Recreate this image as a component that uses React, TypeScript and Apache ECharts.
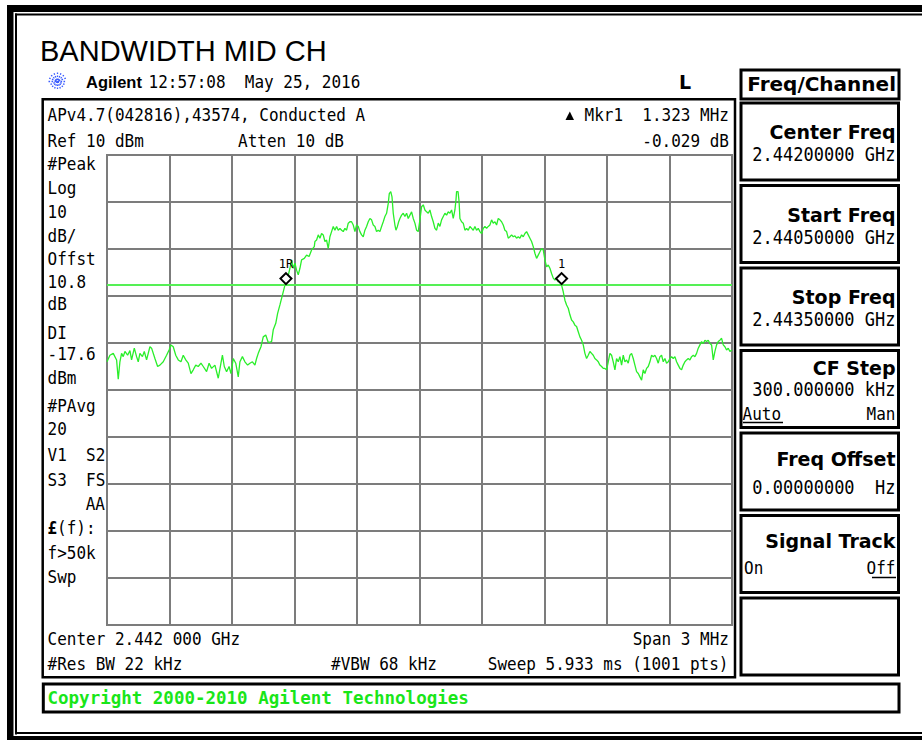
import React, { useEffect, useRef } from "react";
import * as echarts from "echarts";

// ---- Data (frequency in kHz from start 2.44050 GHz, level in dBm) ----
const startFreqGHz = 2.4405;
const spanKHz = 3000;
const divKHz = 300;
const refLevelDbm = 10;
const bottomDbm = -90;
const dbPerDiv = 10;
const displayLineDbm = -17.6;

const traceLeft: number[][] = [
  [0, -34.0], [14, -32.6], [30, -32.2], [46, -33.6], [54, -37.7], [62, -34.0], [70, -32.2], [78, -32.9],
  [86, -31.8], [99, -32.6], [110, -31.6], [118, -33.6], [131, -31.1], [142, -32.9], [150, -34.0], [158, -32.2],
  [170, -32.9], [179, -31.8], [190, -33.6], [206, -30.8], [214, -31.1], [230, -33.3], [243, -35.0], [254, -34.7],
  [270, -34.0], [286, -32.6], [298, -31.5], [307, -30.4], [318, -30.8], [330, -32.6], [342, -33.6], [355, -34.0],
  [366, -32.6], [378, -33.6], [390, -34.3], [403, -36.5], [414, -35.7], [426, -34.7], [438, -35.0], [451, -34.3],
  [462, -35.0], [478, -36.1], [490, -34.3], [502, -35.4], [518, -34.7], [534, -37.5], [547, -34.3], [554, -32.6],
  [563, -35.0], [574, -36.1], [586, -35.0], [595, -36.5], [606, -33.3], [618, -34.3], [630, -37.2], [638, -34.0],
  [650, -32.9], [662, -34.0], [675, -34.7], [686, -34.3], [698, -34.0], [710, -34.7], [718, -33.3], [726, -32.2],
  [739, -30.8], [750, -28.7], [762, -28.3], [774, -29.9], [790, -29.7], [798, -27.2], [810, -25.8], [819, -23.7],
  [830, -21.9], [842, -19.8], [854, -17.7], [867, -16.2], [878, -14.1], [886, -12.3], [894, -14.1], [902, -13.0],
  [910, -14.5], [918, -15.5], [926, -14.1], [934, -12.3], [947, -12.0], [958, -11.3], [970, -11.6], [982, -10.2],
  [995, -9.5],
];

const traceMid: number[][] = [
  [998, -8.4], [1006, -8.1], [1014, -7.0], [1022, -7.7], [1030, -6.7], [1038, -7.0], [1046, -8.4], [1054, -8.1],
  [1062, -9.9], [1070, -7.4], [1078, -6.3], [1086, -5.2], [1094, -6.0], [1102, -5.2], [1110, -6.0], [1118, -5.6],
  [1126, -6.0], [1134, -6.3], [1142, -5.6], [1150, -6.0], [1158, -4.5], [1166, -4.2], [1174, -4.2], [1182, -4.9],
  [1190, -6.3], [1198, -4.9], [1206, -5.2], [1214, -6.3], [1222, -7.0], [1230, -7.4], [1238, -6.0], [1246, -5.2],
  [1254, -4.2], [1262, -3.5], [1270, -3.8], [1278, -4.9], [1286, -5.2], [1294, -6.3], [1302, -6.0], [1310, -6.3],
  [1318, -5.2], [1326, -4.2], [1334, -3.1], [1342, -2.4], [1350, -0.3], [1355, 1.8], [1362, 2.2], [1368, 1.1],
  [1374, -2.4], [1382, -4.9], [1387, -6.0], [1394, -5.2], [1400, -4.2], [1406, -3.5], [1414, -2.8], [1422, -2.4],
  [1430, -3.1], [1438, -2.4], [1446, -3.5], [1454, -2.8], [1462, -2.1], [1470, -3.5], [1478, -4.5], [1486, -6.0],
  [1494, -6.3], [1502, -3.8], [1510, -1.0], [1518, -0.6], [1526, -1.7], [1534, -2.1], [1542, -2.4], [1550, -1.7],
  [1558, -3.1], [1566, -4.2], [1574, -5.6], [1582, -6.0], [1590, -4.5], [1598, -5.2], [1606, -3.8], [1614, -3.1],
  [1622, -2.4], [1630, -2.8], [1638, -2.1], [1646, -2.4], [1654, -1.7], [1662, -3.5], [1670, -1.7], [1675, 0.4],
  [1678, 2.2], [1685, 2.2], [1690, 0.1], [1694, -3.5], [1702, -4.2], [1710, -4.5], [1718, -6.0], [1726, -5.6],
  [1734, -6.0], [1742, -5.2], [1750, -5.6], [1758, -6.0], [1766, -5.2], [1774, -6.0], [1782, -5.6], [1790, -6.3],
  [1798, -6.7], [1806, -5.6], [1814, -5.2], [1822, -5.6], [1830, -5.2], [1838, -4.9], [1846, -3.8], [1854, -4.5],
  [1862, -4.2], [1870, -4.9], [1878, -3.5], [1886, -3.8], [1894, -4.2], [1902, -4.9], [1910, -6.0], [1918, -6.3],
  [1926, -7.7], [1934, -7.4], [1942, -7.0], [1950, -7.4], [1958, -7.2], [1966, -7.7], [1974, -7.4],
];

const traceRight: number[][] = [
  [1982, -7.7], [1990, -7.0], [1998, -7.4], [2006, -6.7], [2014, -6.3], [2022, -7.0], [2030, -7.7], [2038, -8.4],
  [2046, -9.5], [2054, -10.9], [2062, -12.0], [2070, -11.3], [2078, -10.6], [2086, -9.9], [2094, -10.2], [2102, -12.3],
  [2110, -13.8], [2118, -13.4], [2126, -14.1], [2134, -15.2], [2142, -16.2], [2150, -16.6], [2158, -16.2], [2166, -17.0],
  [2174, -16.6], [2182, -17.7], [2190, -19.1], [2198, -20.9], [2206, -21.9], [2214, -22.6], [2222, -24.0], [2230, -25.1],
  [2238, -25.5], [2246, -26.2], [2254, -26.5], [2262, -27.6], [2270, -28.7], [2278, -29.4], [2286, -30.4], [2294, -32.2],
  [2302, -33.3], [2310, -32.6], [2318, -31.8], [2326, -32.2], [2334, -32.6], [2342, -33.3], [2350, -33.6], [2358, -34.0],
  [2366, -34.7], [2374, -35.0], [2382, -35.4], [2390, -35.4], [2398, -35.7], [2406, -34.0], [2414, -32.2], [2422, -32.6],
  [2430, -34.0], [2438, -35.7], [2446, -33.3], [2454, -34.0], [2462, -32.9], [2470, -34.7], [2478, -32.6], [2486, -34.0],
  [2494, -33.6], [2502, -34.3], [2510, -32.6], [2518, -32.2], [2526, -33.3], [2534, -34.7], [2542, -36.1], [2550, -36.5],
  [2558, -37.2], [2566, -37.9], [2574, -35.7], [2582, -36.5], [2590, -35.4], [2598, -35.0], [2606, -34.0], [2614, -32.6],
  [2622, -32.9], [2630, -32.6], [2638, -33.3], [2646, -34.3], [2654, -32.9], [2662, -32.6], [2670, -34.0], [2678, -33.3],
  [2686, -34.3], [2694, -34.0], [2702, -33.3], [2710, -32.9], [2718, -33.3], [2726, -32.9], [2734, -34.0], [2742, -34.7],
  [2750, -35.4], [2758, -35.7], [2766, -34.7], [2774, -34.0], [2782, -33.6], [2790, -33.3], [2798, -33.6], [2806, -32.9],
  [2814, -32.6], [2822, -32.9], [2830, -32.2], [2838, -31.1], [2846, -30.4], [2854, -29.7], [2862, -30.1], [2870, -29.4],
  [2878, -29.7], [2886, -29.4], [2894, -30.1], [2902, -30.4], [2910, -33.6], [2918, -31.8], [2926, -30.4], [2934, -29.7],
  [2942, -29.4], [2950, -29.0], [2958, -30.4], [2966, -30.8], [2974, -31.5], [2982, -31.1], [2990, -31.8], [3000, -31.5],
];

const markerLabels = ["1R", "1"];
const markerFreqKHz = [859, 2182];
const markerDbm = [-16.3, -16.3];

// ---- Texts ----
const titleText = "BANDWIDTH MID CH";
const timeText = "12:57:08  May 25, 2016";
const infoLine1 = "APv4.7(042816),43574, Conducted A";
const refText = "Ref 10 dBm";
const attenText = "Atten 10 dB";
const mkrText = "Mkr1  1.323 MHz";
const mkrDelta = "-0.029 dB";
const leftLabels: [string, number][] = [
  ["#Peak", 163.5], ["Log", 188], ["10", 211.5], ["dB/", 235.5], ["Offst", 259], ["10.8", 281.5], ["dB", 303.5],
  ["DI", 333], ["-17.6", 353.5], ["dBm", 377.5], ["#PAvg", 405.5], ["20", 429], ["V1  S2", 455], ["S3  FS", 479.5],
  ["f>50k", 553], ["Swp", 577],
];
const softkeys = [
  { title: "Center Freq", value: "2.44200000 GHz" },
  { title: "Start Freq", value: "2.44050000 GHz" },
  { title: "Stop Freq", value: "2.44350000 GHz" },
  { title: "CF Step", value: "300.000000 kHz" },
  { title: "Freq Offset", value: "0.00000000  Hz" },
  { title: "Signal Track", value: "" },
  { title: "", value: "" },
];

const MONO = '"DejaVu Sans Mono", monospace';
const SANS = '"DejaVu Sans", sans-serif';
const ARIAL = '"Liberation Sans", Arial, sans-serif';
const TRACE_GREEN = "#2aee2a";
const LINE_GREEN = "#55f055";

function txt(text: string, x: number, y: number, o: any = {}) {
  const size = o.size ?? 16;
  const family = o.family ?? MONO;
  const weight = o.weight ?? "normal";
  const align = o.align ?? "left";
  return {
    type: "text",
    x,
    y,
    scaleY: o.sy ?? (family === MONO ? 1.15 : 1),
    silent: true,
    z: 10,
    style: {
      text,
      x: 0,
      y: 0,
      fill: o.color ?? "#000",
      font: `${weight} ${size}px ${family}`,
      textAlign: align,
      align,
      textVerticalAlign: "middle",
      verticalAlign: "middle",
    },
  };
}

function box(x: number, y: number, w: number, h: number, lw: number, color = "#000") {
  return {
    type: "rect",
    silent: true,
    z: 5,
    shape: { x, y, width: w, height: h },
    style: { fill: "transparent", stroke: color, lineWidth: lw },
  };
}

function fillRect(x: number, y: number, w: number, h: number) {
  return { type: "rect", silent: true, z: 5, shape: { x, y, width: w, height: h }, style: { fill: "#000" } };
}

export default function App() {
  const ref = useRef<HTMLDivElement>(null);

  useEffect(() => {
    if (!ref.current) return;
    const chart = echarts.init(ref.current, null, { renderer: "svg" });

    const graphics: any[] = [];
    // outer frame
    graphics.push(fillRect(7, 5, 922, 7));
    graphics.push(fillRect(7, 5, 6.5, 740));
    graphics.push(fillRect(7, 736, 922, 6));
    graphics.push(fillRect(15, 13.5, 922, 2));
    graphics.push(fillRect(15, 13.5, 2, 721));
    graphics.push(fillRect(15, 732, 922, 2));

    // header
    graphics.push(txt(titleText, 40, 50.5, { family: ARIAL, size: 29 }));
    const cx = 57.5, cy = 81.5;
    for (let k = 0; k < 8; k++) {
      const a = (k * Math.PI) / 8;
      graphics.push({
        type: "line",
        silent: true,
        z: 10,
        shape: { x1: cx - 9 * Math.cos(a), y1: cy - 9 * Math.sin(a), x2: cx + 9 * Math.cos(a), y2: cy + 9 * Math.sin(a) },
        style: { stroke: "#3a5cff", lineWidth: 1.3, lineDash: [1.6, 1.4] },
      });
    }
    graphics.push(txt("Agilent", 86, 82, { family: ARIAL, size: 16.5, weight: "bold" }));
    graphics.push(txt(timeText, 148.5, 82));
    graphics.push(txt("L", 685, 82, { family: SANS, size: 19, weight: "bold", align: "center" }));

    // Freq/Channel title box
    graphics.push(box(741, 70, 158, 29, 3));
    graphics.push(txt("Freq/Channel", 896, 84, { family: SANS, size: 20, weight: "bold", align: "right" }));

    // main screen box
    graphics.push(box(42.7, 99.3, 692.3, 578, 2.5));
    graphics.push(txt(infoLine1, 47.5, 115));
    graphics.push({
      type: "polygon",
      silent: true,
      z: 10,
      shape: { points: [[565.5, 120], [569.8, 111.5], [574, 120]] },
      style: { fill: "#000" },
    });
    graphics.push(txt(mkrText, 729, 115, { align: "right" }));
    graphics.push(txt(refText, 47.5, 141));
    graphics.push(txt(attenText, 238, 141));
    graphics.push(txt(mkrDelta, 729, 141, { align: "right" }));
    leftLabels.forEach(([t, y]) => graphics.push(txt(t, 47.5, y)));
    graphics.push(txt("AA", 105, 503.5, { align: "right" }));
    graphics.push(txt("£", 47.5, 528, { weight: "bold" }));
    graphics.push(txt("(f):", 57.1, 528));
    graphics.push(txt("Center 2.442 000 GHz", 47.5, 639));
    graphics.push(txt("Span 3 MHz", 729, 639, { align: "right" }));
    graphics.push(txt("#Res BW 22 kHz", 47.5, 664));
    graphics.push(txt("#VBW 68 kHz", 331, 664));
    graphics.push(txt("Sweep 5.933 ms (1001 pts)", 728.5, 664, { align: "right" }));

    // softkeys
    softkeys.forEach((sk, i) => {
      const top = 103 + 82.5 * i;
      graphics.push(box(741, top, 157.5, 77, 3));
      if (sk.title === "CF Step") {
        graphics.push(txt(sk.title, 895.5, top + 17, { family: SANS, size: 19, weight: "bold", align: "right" }));
        graphics.push(txt(sk.value, 895.5, top + 39, { size: 17, align: "right" }));
        graphics.push(txt("Auto", 742.5, top + 63.5, { size: 16 }));
        graphics.push(txt("Man", 895.5, top + 63.5, { size: 16, align: "right" }));
        graphics.push({ type: "line", silent: true, z: 10, shape: { x1: 743, y1: top + 72, x2: 783, y2: top + 72 }, style: { stroke: "#000", lineWidth: 1.5 } });
      } else if (sk.title === "Freq Offset") {
        graphics.push(txt(sk.title, 895.5, top + 26, { family: SANS, size: 19, weight: "bold", align: "right" }));
        graphics.push(txt(sk.value, 895.5, top + 54.5, { size: 17, align: "right" }));
      } else if (sk.title === "Signal Track") {
        graphics.push(txt(sk.title, 895.5, top + 25, { family: SANS, size: 19, weight: "bold", align: "right" }));
        graphics.push(txt("On", 744, top + 52, { size: 16 }));
        graphics.push(txt("Off", 895.5, top + 52, { size: 16, align: "right" }));
        graphics.push({ type: "line", silent: true, z: 10, shape: { x1: 872, y1: top + 62, x2: 896, y2: top + 62 }, style: { stroke: "#000", lineWidth: 1.5 } });
      } else if (sk.title) {
        graphics.push(txt(sk.title, 895.5, top + 29, { family: SANS, size: 19, weight: "bold", align: "right" }));
        graphics.push(txt(sk.value, 895.5, top + 51.5, { size: 17, align: "right" }));
      }
    });

    // copyright box
    graphics.push(box(43.3, 684, 855.7, 28, 3));
    graphics.push(txt("Copyright 2000-2010 Agilent Technologies", 47.5, 697.5, { size: 17.5, weight: "bold", color: "#19e619", sy: 1.05 }));

    const trace = [...traceLeft, ...traceMid, ...traceRight];

    chart.setOption({
      animation: false,
      backgroundColor: "#fff",
      grid: {
        left: 107,
        top: 155,
        width: 625,
        height: 470,
        show: true,
        borderColor: "#7c7c7c",
        borderWidth: 2,
        backgroundColor: "#fff",
      },
      xAxis: {
        type: "value",
        min: 0,
        max: spanKHz,
        interval: divKHz,
        axisLine: { show: false },
        axisTick: { show: false },
        axisLabel: { show: false },
        splitLine: { show: true, lineStyle: { color: "#7c7c7c", width: 2 } },
      },
      yAxis: {
        type: "value",
        min: bottomDbm,
        max: refLevelDbm,
        interval: dbPerDiv,
        axisLine: { show: false },
        axisTick: { show: false },
        axisLabel: { show: false },
        splitLine: { show: true, lineStyle: { color: "#7c7c7c", width: 2 } },
      },
      graphic: { elements: graphics },
      series: [
        {
          type: "line",
          name: `Trace ${startFreqGHz}`,
          data: trace,
          showSymbol: false,
          symbol: "none",
          clip: true,
          z: 3,
          lineStyle: { color: TRACE_GREEN, width: 1.3 },
          markLine: {
            silent: true,
            symbol: ["none", "none"],
            label: { show: false },
            lineStyle: { color: LINE_GREEN, width: 2, type: "solid" },
            data: [{ yAxis: displayLineDbm }],
          },
          markPoint: {
            silent: true,
            symbol: "diamond",
            symbolSize: [11, 11],
            itemStyle: { color: "#fff", borderColor: "#000", borderWidth: 2 },
            label: {
              show: true,
              position: "top",
              distance: 2,
              formatter: "{b}",
              color: "#000",
              fontFamily: MONO,
              fontSize: 12,
            },
            data: markerLabels.map((name, i) => ({ name, coord: [markerFreqKHz[i], markerDbm[i]] })),
          },
        },
      ],
    });

    return () => chart.dispose();
  }, []);

  return <div ref={ref} style={{ position: "absolute", left: 0, top: 0, width: 922, height: 740 }} />;
}
